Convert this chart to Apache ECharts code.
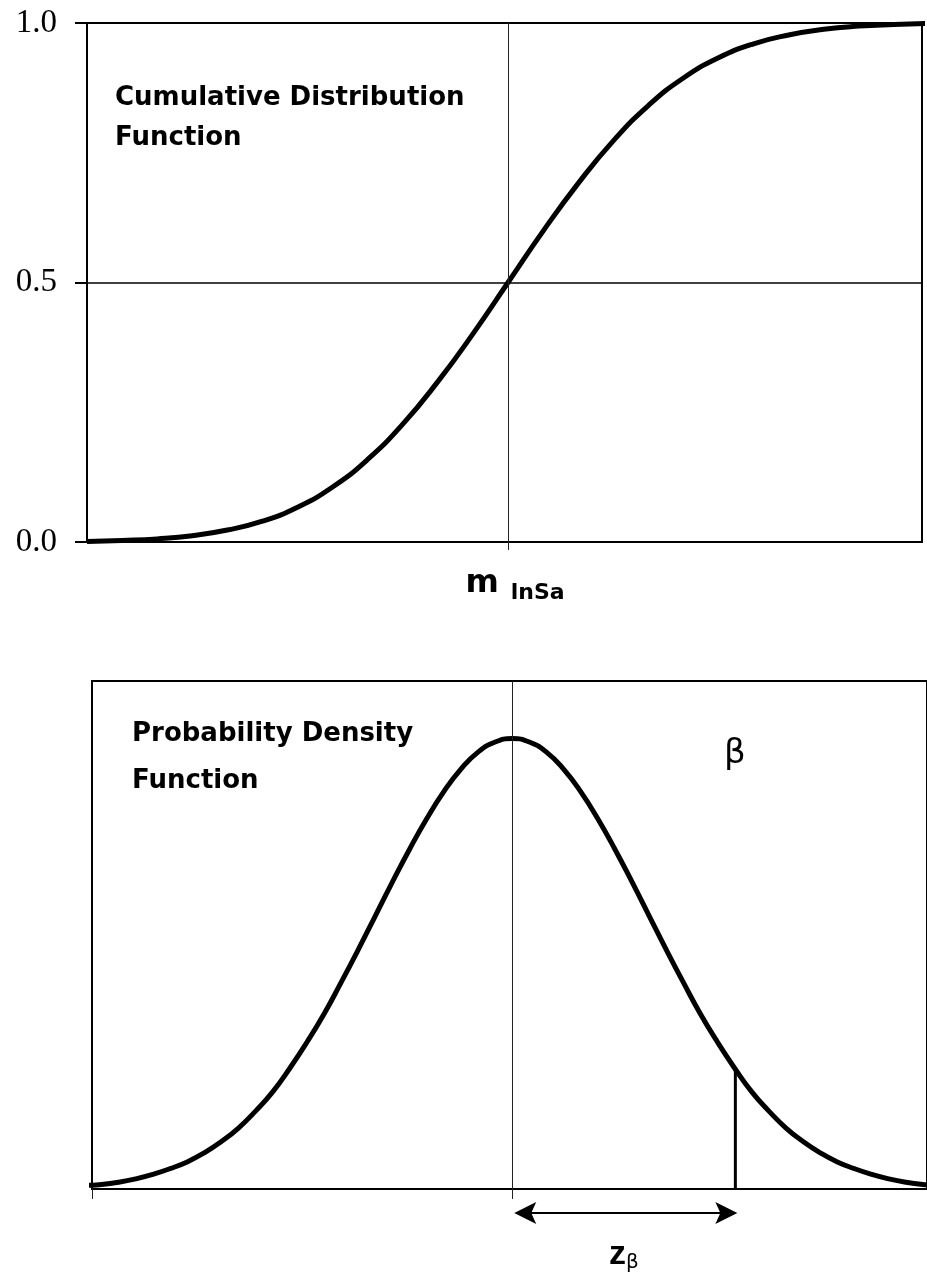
<!DOCTYPE html>
<html>
<head>
<meta charset="utf-8">
<script src="https://cdn.jsdelivr.net/npm/echarts@6/dist/echarts.min.js"></script>
<style>
  html, body { margin: 0; padding: 0; background: #fff; }
  #chart { width: 927px; height: 1274px; }
</style>
</head>
<body>
<div id="chart"></div>
<script>
// 上图：累积分布函数（横轴按标准差单位读取）
const cdfZ = [-3, -2.75, -2.5, -2.25, -2, -1.75, -1.5, -1.25, -1, -0.75, -0.5, -0.25, 0,
              0.25, 0.5, 0.75, 1, 1.25, 1.5, 1.75, 2, 2.25, 2.5, 2.75, 3];
const cdfValues = [0.001, 0.003, 0.006, 0.012, 0.023, 0.040, 0.067, 0.106, 0.159, 0.227, 0.309, 0.401, 0.5,
                   0.599, 0.691, 0.773, 0.841, 0.894, 0.933, 0.960, 0.977, 0.988, 0.994, 0.997, 0.999];
const cdfTicks = [0, 0.5, 1];
const cdfTickLabels = ['0.0', '0.5', '1.0'];

// 下图：概率密度函数
const pdfZ = [-3.25, -3.125, -3, -2.875, -2.75, -2.625, -2.5, -2.375, -2.25, -2.125, -2, -1.875, -1.75,
              -1.625, -1.5, -1.375, -1.25, -1.125, -1, -0.875, -0.75, -0.625, -0.5, -0.375, -0.25, -0.125, 0,
              0.125, 0.25, 0.375, 0.5, 0.625, 0.75, 0.875, 1, 1.125, 1.25, 1.375, 1.5, 1.625,
              1.75, 1.875, 2, 2.125, 2.25, 2.375, 2.5, 2.625, 2.75, 2.875, 3, 3.125, 3.25];
const pdfValues = [0.002, 0.003, 0.004, 0.006, 0.009, 0.013, 0.018, 0.024, 0.032, 0.042, 0.054, 0.069, 0.086,
                   0.107, 0.130, 0.155, 0.183, 0.212, 0.242, 0.272, 0.301, 0.328, 0.352, 0.372, 0.387, 0.396, 0.399,
                   0.396, 0.387, 0.372, 0.352, 0.328, 0.301, 0.272, 0.242, 0.212, 0.183, 0.155, 0.130, 0.107,
                   0.086, 0.069, 0.054, 0.042, 0.032, 0.024, 0.018, 0.013, 0.009, 0.006, 0.004, 0.003, 0.002];
const zBeta = 1.63;
const zBetaDensity = 0.106;

const myChart = echarts.init(document.getElementById('chart'), null, { renderer: 'canvas' });

const toPairs = (xs, ys) => xs.map((x, i) => [x, ys[i]]);

const option = {
    animation: false,
    backgroundColor: '#fff',
    title: [
        {
            text: 'Cumulative Distribution\nFunction',
            left: 115, top: 78, padding: 0,
            textStyle: { fontFamily: 'DejaVu Sans', fontWeight: 'bold', fontSize: 26, lineHeight: 40, color: '#000' }
        },
        {
            text: 'Probability Density\nFunction',
            left: 132, top: 711, padding: 0,
            textStyle: { fontFamily: 'DejaVu Sans', fontWeight: 'bold', fontSize: 26, lineHeight: 47, color: '#000' }
        },
        {
            text: 'β',
            left: 724, top: 737, padding: 0,
            textStyle: { fontFamily: 'DejaVu Sans', fontWeight: 'normal', fontSize: 34, color: '#000' }
        }
    ],
    grid: [
        { left: 87, right: 5, top: 23, height: 519, show: true, borderColor: '#000', borderWidth: 2 },
        { left: 92, right: 0, top: 681, height: 508, show: true, borderColor: '#000', borderWidth: 2 }
    ],
    xAxis: [
        {
            gridIndex: 0, type: 'value', min: -3, max: 2.95,
            axisLine: { show: true, onZero: false, lineStyle: { color: '#000', width: 2 } },
            axisTick: { show: true, customValues: [0], length: 8, lineStyle: { color: '#222', width: 1 } },
            splitLine: { show: false },
            axisLabel: {
                show: true, customValues: [0], margin: 22, padding: [0, 0, 0, 14],
                formatter: () => '{m|m}{s|lnSa}',
                rich: {
                    m: { fontFamily: 'DejaVu Sans', fontWeight: 'bold', fontSize: 32, lineHeight: 40, color: '#000' },
                    s: { fontFamily: 'DejaVu Sans', fontWeight: 'bold', fontSize: 22, lineHeight: 16, padding: [0, 0, 0, 12], verticalAlign: 'bottom', color: '#000' }
                }
            }
        },
        {
            gridIndex: 1, type: 'value', min: -3.07, max: 3.03,
            axisLine: { show: true, onZero: false, lineStyle: { color: '#000', width: 2 } },
            axisTick: { show: true, customValues: [-3.07, 0], length: 10, lineStyle: { color: '#222', width: 1 } },
            splitLine: { show: false },
            axisLabel: {
                show: true, customValues: [zBeta / 2], margin: 48,
                formatter: () => '{z|z}{b|β}',
                rich: {
                    z: { fontFamily: 'Liberation Sans', fontWeight: 'bold', fontSize: 34, lineHeight: 36, color: '#000' },
                    b: { fontFamily: 'DejaVu Sans', fontSize: 20, lineHeight: 12, verticalAlign: 'bottom', color: '#000' }
                }
            }
        }
    ],
    yAxis: [
        {
            gridIndex: 0, type: 'value', min: 0, max: 1, interval: 0.5, position: 'left',
            axisLine: { show: true, onZero: false, lineStyle: { color: '#000', width: 2 } },
            axisTick: { show: true, inside: false, length: 12, lineStyle: { color: '#000', width: 2 } },
            splitLine: { show: true, lineStyle: { color: '#000', width: 1.5 } },
            axisLabel: {
                margin: 30,
                fontFamily: 'Liberation Serif', fontSize: 33, color: '#000',
                formatter: (v) => cdfTickLabels[cdfTicks.indexOf(v)]
            }
        },
        {
            gridIndex: 1, type: 'value', min: 0, max: 0.45, position: 'left',
            axisLine: { show: true, onZero: false, lineStyle: { color: '#000', width: 2 } },
            axisTick: { show: false },
            splitLine: { show: false },
            axisLabel: { show: false }
        }
    ],
    series: [
        {
            name: 'CDF', type: 'line', xAxisIndex: 0, yAxisIndex: 0,
            data: toPairs(cdfZ, cdfValues),
            smooth: true, symbol: 'none',
            lineStyle: { color: '#000', width: 5 },
            markLine: {
                silent: true, symbol: 'none', label: { show: false },
                lineStyle: { color: '#222', width: 1, type: 'solid' },
                data: [{ xAxis: 0 }]
            }
        },
        {
            name: 'PDF', type: 'line', xAxisIndex: 1, yAxisIndex: 1,
            data: toPairs(pdfZ, pdfValues),
            smooth: true, symbol: 'none',
            lineStyle: { color: '#000', width: 5 },
            markLine: {
                silent: true, symbol: 'none', label: { show: false },
                lineStyle: { color: '#222', width: 1, type: 'solid' },
                data: [{ xAxis: 0 }]
            }
        },
        {
            // z_beta 处的竖线
            name: 'zBeta', type: 'line', xAxisIndex: 1, yAxisIndex: 1,
            data: [[zBeta, 0], [zBeta, zBetaDensity]],
            symbol: 'none',
            lineStyle: { color: '#000', width: 3 }
        },
        {
            // 轴下方的双向箭头
            name: 'arrow', type: 'custom', xAxisIndex: 1, yAxisIndex: 1,
            clip: false, silent: true,
            data: [[0, zBeta, 0]],
            encode: { x: [0, 1], y: 2 },
            renderItem: function (params, api) {
                const a = api.coord([api.value(0), 0]);
                const b = api.coord([api.value(1), 0]);
                const y = a[1] + 24;
                const x0 = a[0] + 2;
                const x1 = b[0] + 2;
                return {
                    type: 'group',
                    children: [
                        { type: 'line', shape: { x1: x0 + 12, y1: y, x2: x1 - 12, y2: y }, style: { stroke: '#000', lineWidth: 2 } },
                        { type: 'polygon', shape: { points: [[x0, y], [x0 + 22, y - 11], [x0 + 17, y], [x0 + 22, y + 11]] }, style: { fill: '#000' } },
                        { type: 'polygon', shape: { points: [[x1, y], [x1 - 22, y - 11], [x1 - 17, y], [x1 - 22, y + 11]] }, style: { fill: '#000' } }
                    ]
                };
            }
        }
    ]
};

myChart.setOption(option);
</script>
</body>
</html>
